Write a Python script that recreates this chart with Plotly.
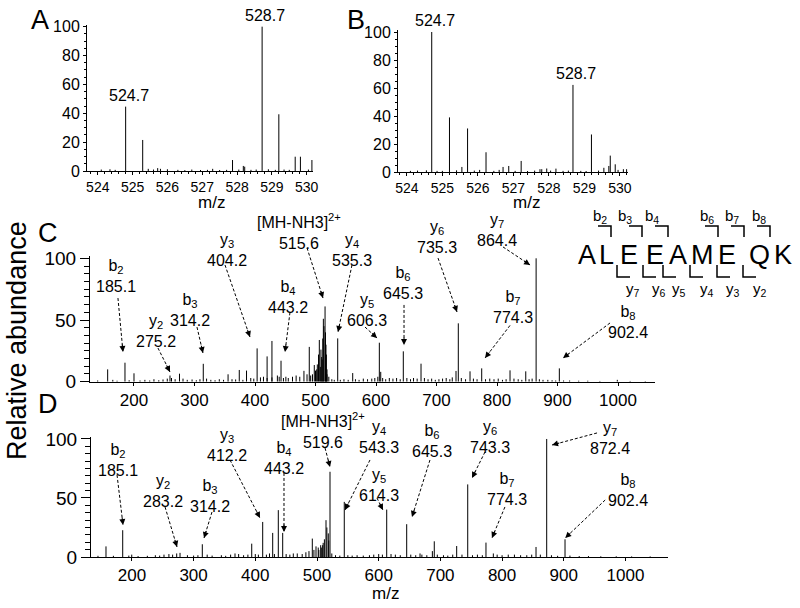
import plotly.graph_objects as go
import math

# figure fills the 800x608 window; the page's default body margin is removed after plotting
W, H = 800, 608
OX, OY = 0, 0
FONT = "Liberation Sans, Arial, Helvetica, sans-serif"

# ---------------- Panel A data (MS1) ----------------
a_peak_mz = [524.80, 525.29, 527.87, 528.18, 528.22, 528.72, 529.20, 529.67, 529.82, 530.15]
a_peak_int = [44.6, 21.5, 7.6, 3.5, 3.0, 100.0, 39.3, 9.9, 9.9, 7.6]
a_noise_mz = [524.1, 524.35, 524.5, 525.45, 525.6, 525.72, 525.8, 526.0, 526.3, 526.5, 526.7,
              526.95, 527.15, 527.3, 527.5, 527.7, 528.05, 528.4, 528.55, 528.9, 529.1, 529.35,
              529.5, 530.05]
a_noise_int = [1.0, 1.2, 0.8, 1.5, 1.0, 2.0, 1.5, 1.2, 0.8, 0.6, 1.0, 0.7, 0.8, 1.5, 0.7, 0.8,
               1.0, 0.8, 1.0, 1.2, 0.8, 1.0, 0.8, 1.0]
a_label_text = ["524.7", "528.7"]
a_label_mz = [524.80, 528.72]
a_label_int = [44.6, 100.0]

# ---------------- Panel B data (MS1) ----------------
b_peak_mz = [524.70, 525.20, 525.55, 525.71, 526.23, 526.71, 526.87, 527.22, 527.75, 527.94,
             528.20, 528.68, 529.20, 529.55, 529.69, 529.73, 529.87, 530.19]
b_peak_int = [100.0, 39.0, 3.6, 31.1, 14.1, 3.6, 4.3, 7.9, 2.0, 2.5, 2.4, 62.2, 26.8, 3.0, 4.3,
              11.7, 5.5, 2.0]
b_noise_mz = [524.1, 524.3, 524.55, 524.85, 525.0, 525.4, 525.9, 526.05, 526.45, 526.6, 527.05,
              527.4, 527.6, 527.8, 528.05, 528.4, 528.55, 528.9, 529.05, 529.4, 529.95, 530.1]
b_noise_int = [0.8, 1.0, 1.2, 0.8, 0.8, 1.2, 1.0, 1.5, 0.8, 1.5, 0.8, 0.7, 1.0, 2.0, 1.0, 0.8,
               1.0, 0.8, 0.7, 1.0, 1.5, 2.0]
b_label_text = ["524.7", "528.7"]
b_label_mz = [524.70, 528.68]
b_label_int = [100.0, 62.2]

# ---------------- Panel C data (MS/MS, light) ----------------
c_peak_mz = [156.5, 185.1, 200.0, 259.5, 275.2, 314.5, 355.5, 374.0, 386.0, 403.5, 420.0, 428.0,
             443.0, 451.0, 480.9, 489.7, 495.0, 498.0, 500.0, 502.0, 503.0, 505.0, 506.3, 508.0,
             509.0, 510.2, 511.0, 512.0, 513.0, 514.0, 515.8, 516.5, 517.3, 518.0, 519.0, 536.7,
             561.5, 605.5, 607.8, 645.1, 674.4, 732.2, 736.0, 755.4, 774.7, 821.5, 847.5, 864.6,
             903.0, 998.8]
c_peak_int = [10.0, 15.4, 6.8, 5.0, 6.5, 14.5, 6.0, 9.5, 9.0, 27.0, 20.5, 33.0, 17.0, 4.0, 8.8,
              28.2, 6.0, 13.5, 9.0, 10.0, 14.0, 22.0, 33.8, 12.0, 26.0, 20.0, 18.0, 35.0, 51.0,
              45.0, 61.0, 40.0, 30.0, 22.0, 10.0, 35.1, 7.0, 31.6, 8.0, 24.6, 14.6, 8.7, 47.3,
              8.4, 10.8, 9.2, 8.4, 100.0, 10.8, 1.5]
c_noise_mz = [140, 165, 172, 192, 210, 218, 226, 233, 241, 248, 255, 262, 268, 281, 288, 296, 303,
              309, 320, 327, 334, 341, 348, 362, 368, 380, 393, 398, 409, 414, 420, 428, 437, 440,
              447, 455, 462, 468, 474, 486, 492, 519, 522, 527, 531, 541, 547, 554, 566, 572, 579,
              586, 593, 598, 603, 611, 616, 622, 628, 634, 640, 651, 657, 662, 668, 680, 686, 692,
              698, 704, 710, 716, 722, 726, 741, 748, 761, 767, 781, 788, 795, 802, 809, 815, 828,
              835, 841, 853, 858, 870, 876, 884, 891, 897, 910, 920, 935, 950, 970, 1020, 1045]
c_noise_int = [1.0, 1.5, 0.8, 1.2, 1.0, 1.5, 1.0, 2.0, 1.2, 1.8, 2.5, 3.0, 2.0, 2.5, 1.5, 1.8,
               1.2, 2.0, 2.5, 1.5, 1.2, 2.0, 1.5, 2.0, 1.8, 1.5, 3.0, 2.5, 3.5, 4.0, 3.0, 3.5,
               5.0, 4.0, 3.0, 3.0, 4.0, 5.0, 4.0, 6.0, 5.0, 6.0, 4.0, 2.0, 1.5, 1.5, 2.0, 1.5,
               2.0, 1.5, 2.5, 2.0, 2.5, 3.0, 4.0, 3.0, 2.0, 3.0, 2.5, 3.0, 2.0, 3.0, 2.0, 3.0,
               2.5, 3.0, 2.0, 2.5, 1.5, 2.0, 2.5, 3.0, 2.0, 3.5, 3.0, 2.0, 2.5, 2.0, 2.0, 2.5,
               2.0, 2.5, 1.5, 2.0, 2.5, 2.0, 1.5, 2.0, 2.5, 2.0, 1.5, 1.5, 1.2, 1.0, 1.0, 1.0,
               0.8, 0.8, 0.6, 0.6, 0.5]
c_ion = ["b<sub>2</sub>", "y<sub>2</sub>", "b<sub>3</sub>", "y<sub>3</sub>",
         "[MH-NH3]<sup>2+</sup>", "b<sub>4</sub>", "y<sub>4</sub>", "y<sub>5</sub>",
         "b<sub>6</sub>", "y<sub>6</sub>", "y<sub>7</sub>", "b<sub>7</sub>", "b<sub>8</sub>"]
c_ion_value = ["185.1", "275.2", "314.2", "404.2", "515.6", "443.2", "535.3", "606.3", "645.3",
               "735.3", "864.4", "774.3", "902.4"]

# ---------------- Panel D data (MS/MS, heavy) ----------------
d_peak_mz = [158.0, 185.1, 199.7, 272.6, 278.0, 314.1, 367.1, 394.2, 412.0, 428.2, 437.3, 444.4,
             461.6, 492.4, 498.4, 503.0, 507.0, 509.2, 510.0, 512.0, 514.6, 516.0, 518.3, 519.0,
             521.1, 544.2, 613.0, 645.4, 667.0, 687.0, 690.1, 726.4, 744.3, 773.9, 785.8, 855.0,
             872.3, 902.0]
d_peak_int = [9.0, 22.7, 2.0, 3.0, 3.5, 10.8, 3.0, 11.3, 29.7, 20.4, 39.7, 20.4, 3.0, 15.6, 9.0,
              6.0, 8.0, 10.0, 12.0, 15.0, 31.2, 25.0, 20.0, 14.0, 72.2, 46.7, 40.2, 27.8, 3.0,
              5.0, 13.3, 9.3, 61.5, 12.2, 3.0, 8.5, 100.0, 15.0]
d_noise_mz = [145, 170, 195, 210, 225, 238, 245, 252, 260, 266, 290, 300, 307, 322, 330, 345, 352,
              360, 373, 381, 388, 400, 405, 418, 423, 431, 450, 456, 468, 476, 482, 487, 495, 502,
              506, 524, 530, 537, 550, 557, 565, 575, 585, 592, 600, 606, 620, 627, 635, 652, 660,
              670, 678, 695, 705, 712, 720, 735, 752, 760, 768, 792, 800, 810, 820, 830, 840, 848,
              862, 880, 890, 910, 925, 940, 960, 985, 1010, 1040]
d_noise_int = [1.0, 1.0, 1.2, 0.8, 1.0, 1.5, 1.2, 2.0, 2.5, 2.0, 1.5, 1.2, 1.5, 2.0, 1.2, 1.5,
               1.0, 2.0, 2.5, 1.5, 2.0, 2.5, 2.0, 2.0, 3.0, 2.5, 2.5, 2.0, 3.0, 2.5, 4.0, 5.0,
               6.0, 8.0, 10.0, 3.0, 1.5, 1.2, 1.5, 1.2, 1.5, 1.2, 1.5, 2.0, 2.5, 2.0, 2.5, 2.0,
               1.5, 2.0, 1.5, 2.0, 1.5, 2.0, 1.5, 1.2, 2.0, 2.0, 1.5, 2.0, 1.5, 2.0, 1.5, 2.0,
               2.0, 1.5, 1.5, 2.0, 2.0, 1.5, 1.0, 1.2, 0.8, 0.8, 0.6, 0.6, 0.5, 0.5]
d_ion = c_ion
d_ion_value = ["185.1", "283.2", "314.2", "412.2", "519.6", "443.2", "543.3", "614.3", "645.3",
               "743.3", "872.4", "774.3", "902.4"]

# peptide sequence
peptide = list("ALEEAMEQK")
b_ions = ["b<sub>2</sub>", "b<sub>3</sub>", "b<sub>4</sub>", "b<sub>6</sub>", "b<sub>7</sub>", "b<sub>8</sub>"]
y_ions = ["y<sub>7</sub>", "y<sub>6</sub>", "y<sub>5</sub>", "y<sub>4</sub>", "y<sub>3</sub>", "y<sub>2</sub>"]


# ---------------- layout geometry (not data) ----------------
def rx(px):
    return (px - OX) / W


def ry(py):
    return 1 - (py - OY) / H


panels = {
    "A": dict(xa="xaxis", ya="yaxis", xr="x", yr="y",
              xdom=(rx(87), rx(313.3)), ydom=(ry(171), ry(24.5)),
              xrange=(523.69, 530.19), yrange=(0, 101.5)),
    "B": dict(xa="xaxis2", ya="yaxis2", xr="x2", yr="y2",
              xdom=(rx(398), rx(628)), ydom=(ry(172), ry(29.9)),
              xrange=(523.75, 530.23), yrange=(0, 101.5)),
    "C": dict(xa="xaxis3", ya="yaxis3", xr="x3", yr="y3",
              xdom=(rx(90), rx(655)), ydom=(ry(381.7), ry(256.45)),
              xrange=(127.3, 1061.1), yrange=(0, 101.5)),
    "D": dict(xa="xaxis4", ya="yaxis4", xr="x4", yr="y4",
              xdom=(rx(91), rx(668.3)), ydom=(ry(557), ry(437.2)),
              xrange=(133.7, 1069.4), yrange=(0, 101.5)),
}

# label / arrow layout in data units: text centre, arrow tail, arrow tip
c_text_pos = [(170, 85.3), (236.3, 41.1), (292.5, 58.1), (353.7, 106.7), (472.7, 122.0),
              (454.5, 69.0), (560.3, 106.7), (585.1, 57.7), (644.6, 79.6), (700.8, 116.9),
              (800.0, 122.9), (826.5, 60.9), (1016.6, 48.0)]
c_tail_pos = [(173.5, 67.8), (239.6, 27.3), (304.1, 44.3), (350.4, 94.6), (486.0, 108.4),
              (457.8, 56.2), (560.3, 94.6), (581.8, 44.3), (646.3, 62.2), (702.5, 100.2),
              (809.9, 109.2), (821.5, 45.6), (986.8, 47.6)]
c_tip_pos = [(181.8, 24.1), (259.5, 7.9), (314.0, 23.3), (391.7, 36.2), (512.4, 67.8),
             (449.6, 24.1), (537.2, 40.3), (601.7, 35.4), (646.3, 29.7), (733.9, 56.5),
             (854.6, 94.6), (780.2, 19.2), (909.1, 19.2)]
d_text_pos = [(177.5, 82.6), (249.6, 55.5), (326.6, 51.3), (354.1, 95.3), (509.7, 106.8),
              (446.5, 83.5), (600.5, 101.3), (599.7, 61.4), (687.2, 97.9), (780.4, 101.3),
              (975.0, 100.4), (807.9, 57.6), (1004.4, 56.8)]
d_tail_pos = [(175.9, 69.5), (253.7, 42.4), (329.8, 38.1), (359.0, 82.2), (513.0, 92.4),
              (446.5, 71.2), (585.9, 82.2), (597.2, 50.0), (683.1, 82.2), (772.3, 89.0),
              (953.9, 105.1), (804.6, 42.4), (967.1, 48.3)]
d_tip_pos = [(185.6, 27.1), (273.1, 8.5), (316.9, 16.1), (407.6, 33.1), (521.1, 76.3),
             (446.5, 21.2), (545.4, 39.8), (606.9, 39.8), (654.0, 33.9), (751.3, 67.0),
             (881.0, 94.9), (783.6, 16.1), (902.3, 16.1)]


def to_paper(p, m, i):
    g = panels[p]
    fx = (m - g["xrange"][0]) / (g["xrange"][1] - g["xrange"][0])
    fy = (i - g["yrange"][0]) / (g["yrange"][1] - g["yrange"][0])
    return (g["xdom"][0] + fx * (g["xdom"][1] - g["xdom"][0]),
            g["ydom"][0] + fy * (g["ydom"][1] - g["ydom"][0]))


def sticks(mz_lists, int_lists):
    xs, ys = [], []
    for mzs, ints in zip(mz_lists, int_lists):
        for m, i in zip(mzs, ints):
            xs += [m, m, None]
            ys += [0, i, None]
    return xs, ys


fig = go.Figure()
spectra = {
    "A": ([a_noise_mz, a_peak_mz], [a_noise_int, a_peak_int]),
    "B": ([b_noise_mz, b_peak_mz], [b_noise_int, b_peak_int]),
    "C": ([c_noise_mz, c_peak_mz], [c_noise_int, c_peak_int]),
    "D": ([d_noise_mz, d_peak_mz], [d_noise_int, d_peak_int]),
}
for p, (ml, il) in spectra.items():
    xs, ys = sticks(ml, il)
    fig.add_trace(go.Scatter(x=xs, y=ys, mode="lines", line=dict(color="black", width=1),
                             xaxis=panels[p]["xr"], yaxis=panels[p]["yr"],
                             showlegend=False, hoverinfo="skip"))

layout = dict(template="none", width=W, height=H, margin=dict(l=0, r=0, t=0, b=0, pad=0),
              autosize=False,
              paper_bgcolor="white", plot_bgcolor="white",
              font=dict(family=FONT, color="black", size=16), showlegend=False)

for p, g in panels.items():
    small = p in ("A", "B")
    xa = dict(domain=list(g["xdom"]), range=list(g["xrange"]), anchor=g["yr"], automargin=False,
              showline=True, linecolor="black", linewidth=1, showgrid=False, zeroline=False,
              ticks="outside", ticklen=3, tickcolor="black", tickangle=0,
              tickfont=dict(size=14 if small else 17))
    ya = dict(domain=list(g["ydom"]), range=list(g["yrange"]), anchor=g["xr"], automargin=False,
              showline=True, linecolor="black", linewidth=1, showgrid=False, zeroline=False,
              ticks="outside", tickcolor="black")
    if small:
        xa.update(tickmode="array", tickvals=[524, 525, 526, 527, 528, 529, 530],
                  minor=dict(ticks="outside", ticklen=2, dtick=0.2, tick0=524, tickcolor="black",
                             showgrid=False))
        ya.update(tickmode="array", tickvals=[0, 20, 40, 60, 80, 100], ticklen=3,
                  tickfont=dict(size=16),
                  minor=dict(ticks="outside", ticklen=2, dtick=5, tick0=0, tickcolor="black",
                             showgrid=False))
    else:
        xa.update(tickmode="array", tickvals=[200, 300, 400, 500, 600, 700, 800, 900, 1000])
        ya.update(tickmode="array", tickvals=[0, 50, 100], ticklen=9, tickfont=dict(size=19),
                  minor=dict(ticks="outside", ticklen=5, dtick=6.25, tick0=0, tickcolor="black",
                             showgrid=False))
    layout[g["xa"]] = xa
    layout[g["ya"]] = ya

annotations = []
shapes = []

# MS1 peak labels
for p, texts, mzs, ints in (("A", a_label_text, a_label_mz, a_label_int),
                            ("B", b_label_text, b_label_mz, b_label_int)):
    for t, m, i in zip(texts, mzs, ints):
        x, y = to_paper(p, m, i)
        annotations.append(dict(x=x, y=y, xref="paper", yref="paper", text=t,
                                showarrow=False, xanchor="center", yanchor="bottom", yshift=1,
                                xshift=3, font=dict(size=16)))

# MS/MS labels with dashed arrows
for p, ions, vals, tpos, tails, tips in (("C", c_ion, c_ion_value, c_text_pos, c_tail_pos, c_tip_pos),
                                         ("D", d_ion, d_ion_value, d_text_pos, d_tail_pos, d_tip_pos)):
    for ion, v, tp, tl, tq in zip(ions, vals, tpos, tails, tips):
        x, y = to_paper(p, *tp)
        annotations.append(dict(x=x, y=y, xref="paper", yref="paper",
                                text=ion + "<br>" + v, showarrow=False, xanchor="center",
                                yanchor="middle", font=dict(size=16)))
        sx, sy = to_paper(p, *tl)
        ex, ey = to_paper(p, *tq)
        shapes.append(dict(type="line", xref="paper", yref="paper", x0=sx, y0=sy, x1=ex, y1=ey,
                           line=dict(color="black", width=1, dash="3px,2px")))
        dx = (sx - ex) * W
        dy = -(sy - ey) * H
        L = math.hypot(dx, dy)
        annotations.append(dict(x=ex, y=ey, xref="paper", yref="paper", text="",
                                showarrow=True, ax=dx / L * 9, ay=dy / L * 9,
                                arrowhead=2, arrowsize=1.2, arrowwidth=1, arrowcolor="black"))


def P(px, py):
    return rx(px), ry(py)


# panel letters, axis titles
for t, (px, py) in (("A", (40, 20)), ("B", (356, 20)), ("C", (47.5, 233)), ("D", (48, 404))):
    x, y = P(px, py)
    annotations.append(dict(x=x, y=y, xref="paper", yref="paper", text=t, showarrow=False,
                            xanchor="center", yanchor="middle", font=dict(size=27)))
for (px, py) in ((211, 202), (526, 202), (385, 593)):
    x, y = P(px, py)
    annotations.append(dict(x=x, y=y, xref="paper", yref="paper", text="m/z", showarrow=False,
                            xanchor="center", yanchor="middle", font=dict(size=17)))
x, y = P(17, 341)
annotations.append(dict(x=x, y=y, xref="paper", yref="paper", text="Relative abundance",
                        textangle=-90, showarrow=False, xanchor="center", yanchor="middle",
                        font=dict(size=27)))

# peptide diagram
letter_px = [587, 606, 628.5, 655, 678, 702.5, 726.5, 759, 783]
for ch, px in zip(peptide, letter_px):
    x, y = P(px, 255.5)
    annotations.append(dict(x=x, y=y, xref="paper", yref="paper", text=ch, showarrow=False,
                            xanchor="center", yanchor="middle", font=dict(size=27)))
b_vert_px = [611, 642, 668, 718, 744, 770]
b_lab_px = [600, 625, 652, 707, 732, 759]
for lab, vx, lx in zip(b_ions, b_vert_px, b_lab_px):
    x0, y0 = P(vx - 13, 226)
    x1, y1 = P(vx, 226)
    x2, y2 = P(vx, 237)
    shapes.append(dict(type="path", xref="paper", yref="paper",
                       path=f"M {x0},{y0} L {x1},{y1} L {x2},{y2}",
                       line=dict(color="black", width=1.5)))
    x, y = P(lx, 216)
    annotations.append(dict(x=x, y=y, xref="paper", yref="paper", text=lab, showarrow=False,
                            xanchor="center", yanchor="middle", font=dict(size=15)))
y_vert_px = [617, 643, 663, 690, 717, 743]
y_lab_px = [633, 659, 679, 707, 733, 760]
for lab, vx, lx in zip(y_ions, y_vert_px, y_lab_px):
    x0, y0 = P(vx, 265)
    x1, y1 = P(vx, 277)
    x2, y2 = P(vx + 13, 277)
    shapes.append(dict(type="path", xref="paper", yref="paper",
                       path=f"M {x0},{y0} L {x1},{y1} L {x2},{y2}",
                       line=dict(color="black", width=1.5)))
    x, y = P(lx, 289)
    annotations.append(dict(x=x, y=y, xref="paper", yref="paper", text=lab, showarrow=False,
                            xanchor="center", yanchor="middle", font=dict(size=15)))

layout["annotations"] = annotations
layout["shapes"] = shapes
fig.update_layout(**layout)
fig.write_html("out.html", config={"displayModeBar": False, "staticPlot": True},
               post_script="document.body.style.margin='0';document.body.style.overflow='hidden';")
